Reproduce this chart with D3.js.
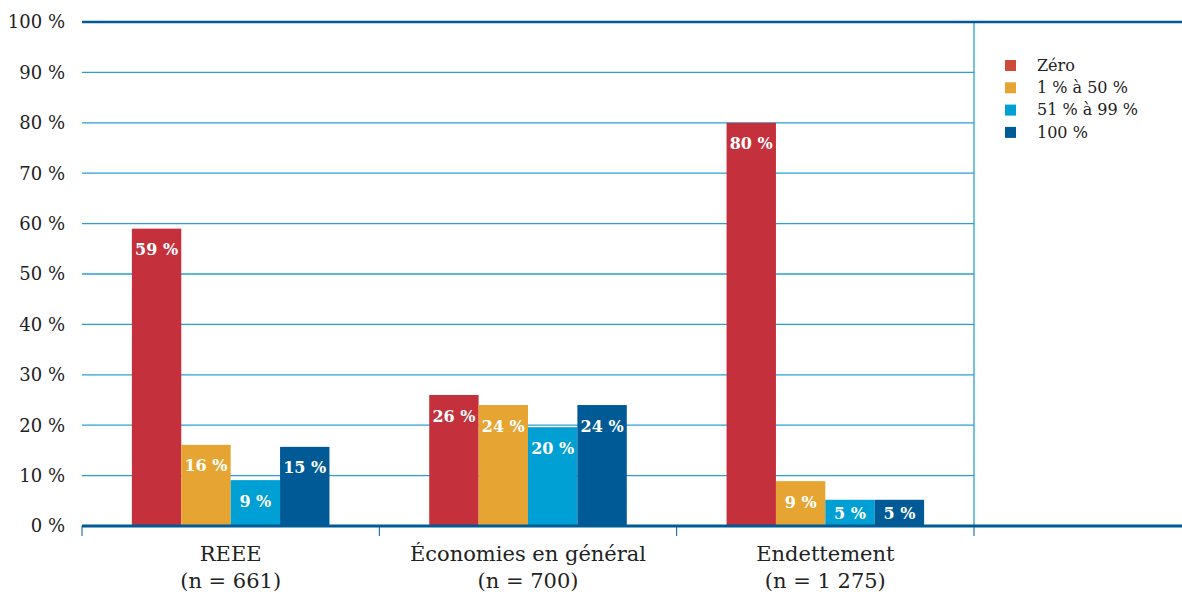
<!DOCTYPE html>
<html><head><meta charset="utf-8">
<script src="https://cdn.jsdelivr.net/npm/d3@7"></script>
<style>body{margin:0;background:#fff}svg{display:block}</style>
</head><body>
<svg id="c" width="1182" height="594"></svg>
<script>
const categories = ["REEE", "Économies en général", "Endettement"];
const categorySubs = ["(n = 661)", "(n = 700)", "(n = 1 275)"];
const seriesNames = ["Zéro", "1 % à 50 %", "51 % à 99 %", "100 %"];
const zeroVals = [59, 26, 80];
const low = [16.1, 24, 8.9];
const high = [9.1, 19.6, 5.2];
const full = [15.7, 24, 5.2];
const labelsZero = ["59 %", "26 %", "80 %"];
const labelsLow = ["16 %", "24 %", "9 %"];
const labelsHigh = ["9 %", "20 %", "5 %"];
const labelsFull = ["15 %", "24 %", "5 %"];
const yTicks = [0, 10, 20, 30, 40, 50, 60, 70, 80, 90, 100];
const colors = ["#c4303b", "#e6a532", "#009fd4", "#005a96"];

const series = [zeroVals, low, high, full];
const seriesLabels = [labelsZero, labelsLow, labelsHigh, labelsFull];

const svg = d3.select("#c");
const font = "'DejaVu Serif', serif";
const mLeft = 82, plotRight = 974, mRight = 1182, mTop = 22, mBottom = 526;

const x = d3.scaleBand().domain(categories).range([mLeft, plotRight]).paddingInner(0).paddingOuter(0);
const xs = d3.scaleBand().domain(seriesNames).range([0, x.bandwidth()]).paddingInner(0).paddingOuter(1.01);
const y = d3.scaleLinear().domain([0, 100]).range([mBottom, mTop]);

// gridlines
svg.append("g").selectAll("line").data(yTicks.filter(t => t > 0 && t < 100)).join("line")
  .attr("x1", mLeft).attr("x2", plotRight)
  .attr("y1", d => y(d)).attr("y2", d => y(d))
  .attr("stroke", "#2a9fd6").attr("stroke-width", 1.3);

// legend separator
svg.append("line").attr("x1", plotRight).attr("x2", plotRight).attr("y1", mTop).attr("y2", mBottom)
  .attr("stroke", "#2a9fd6").attr("stroke-width", 1.3);

// top line
svg.append("line").attr("x1", mLeft).attr("x2", mRight).attr("y1", y(100)).attr("y2", y(100))
  .attr("stroke", "#005a96").attr("stroke-width", 2.5);

// y labels
svg.append("g").selectAll("text").data(yTicks).join("text")
  .attr("x", 65).attr("y", d => y(d)).attr("dy", "0.35em")
  .attr("text-anchor", "end").attr("font-family", font).attr("font-size", 18)
  .attr("fill", "#222").text(d => d + " %");

// bars
series.forEach((vals, si) => {
  const g = svg.append("g");
  g.selectAll("rect").data(vals).join("rect")
    .attr("x", (d, ci) => x(categories[ci]) + xs(seriesNames[si]))
    .attr("width", xs.bandwidth())
    .attr("y", d => y(d))
    .attr("height", d => y(0) - y(d))
    .attr("fill", colors[si]);
  g.selectAll("text").data(vals).join("text")
    .attr("x", (d, ci) => x(categories[ci]) + xs(seriesNames[si]) + xs.bandwidth() / 2)
    .attr("y", d => Math.min(y(d) + 21, mBottom - 13)).attr("dy", "0.35em")
    .attr("text-anchor", "middle").attr("font-family", font).attr("font-size", 16)
    .attr("font-weight", "bold").attr("fill", "#fff")
    .text((d, ci) => seriesLabels[si][ci]);
});

// baseline
svg.append("line").attr("x1", mLeft).attr("x2", mRight).attr("y1", mBottom).attr("y2", mBottom)
  .attr("stroke", "#005a96").attr("stroke-width", 3);

// category ticks
const tickXs = categories.map(c => x(c)).concat([plotRight]);
svg.append("g").selectAll("line").data(tickXs).join("line")
  .attr("x1", d => d).attr("x2", d => d).attr("y1", mBottom).attr("y2", mBottom + 10)
  .attr("stroke", "#005a96").attr("stroke-width", 1);

// category labels
const cl = svg.append("g").selectAll("text").data(categories).join("text")
  .attr("text-anchor", "middle").attr("font-family", font).attr("font-size", 21).attr("fill", "#222");
cl.append("tspan").attr("x", d => x(d) + x.bandwidth() / 2).attr("y", 561).text(d => d);
cl.append("tspan").attr("x", d => x(d) + x.bandwidth() / 2).attr("y", 588).text((d, i) => categorySubs[i]);

// legend
const lg = svg.append("g").selectAll("g").data(seriesNames).join("g")
  .attr("transform", (d, i) => `translate(1005, ${65 + i * 22.3})`);
lg.append("rect").attr("x", 0).attr("y", -5).attr("width", 11).attr("height", 11)
  .attr("fill", (d, i) => i === 0 ? "#d04a3c" : colors[i]);
lg.append("text").attr("x", 32).attr("y", 0).attr("dy", "0.35em")
  .attr("font-family", font).attr("font-size", 16).attr("fill", "#222").text(d => d);
</script>
</body></html>
